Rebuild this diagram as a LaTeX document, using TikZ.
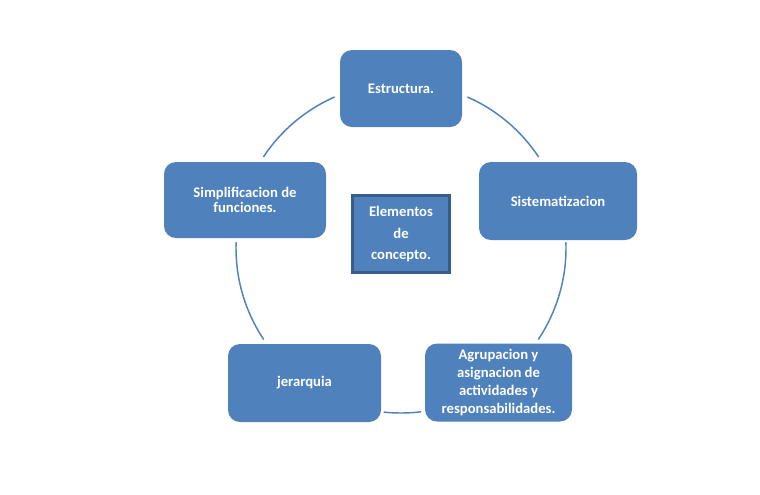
\documentclass[tikz,border=0pt]{standalone}
\usepackage{fontspec}
\setmainfont{Carlito}
\usetikzlibrary{calc}
\definecolor{boxblue}{HTML}{4F81BD}
\definecolor{boxedge}{HTML}{385D8A}
\begin{document}
\begin{tikzpicture}[x=0.75pt,y=0.75pt,
  stepbox/.style={rectangle, rounded corners=9pt, fill=boxblue, text=white, align=center,
    font=\fontsize{11}{13.5}\selectfont\bfseries, inner sep=0pt},
  centerbox/.style={rectangle, fill=boxblue, draw=boxedge, line width=2.25pt, text=white,
    align=center, inner sep=0pt, font=\fontsize{11}{16}\selectfont\bfseries},
  cyc/.style={draw=boxblue, line width=1.1pt}]
\useasboundingbox (0,0) rectangle (760,-494);
\coordinate (O) at (401,-248);
\def\R{165}
% cycle arcs
\draw[cyc] ($(O)+(66.3:\R)$) arc[start angle=66.3, end angle=33.5, radius=\R];
\draw[cyc] ($(O)+(2:\R)$) arc[start angle=2, end angle=-33.7, radius=\R];
\draw[cyc] ($(O)+(-83:\R)$) arc[start angle=-83, end angle=-96, radius=\R];
\draw[cyc] ($(O)+(213.7:\R)$) arc[start angle=213.7, end angle=178, radius=\R];
\draw[cyc] ($(O)+(146.5:\R)$) arc[start angle=146.5, end angle=113.7, radius=\R];
% boxes
\node[stepbox, minimum width=122*0.75pt, minimum height=77*0.75pt] (estructura) at (401,-88.5) {Estructura.};
\node[stepbox, minimum width=158*0.75pt, minimum height=78*0.75pt] (sistema) at (558,-201) {Sistematizacion};
\node[stepbox, minimum width=147*0.75pt, minimum height=78*0.75pt] (agrupa) at (498.5,-382.5) {Agrupacion y\\asignacion de\\actividades y\\responsabilidades.};
\node[stepbox, minimum width=153*0.75pt, minimum height=78*0.75pt] (jerarquia) at (304.5,-383) {jerarquia};
\node[stepbox, minimum width=162*0.75pt, minimum height=76*0.75pt, font=\fontsize{11}{11}\selectfont\bfseries] (simpli) at (245,-200) {Simplificacion de\\funciones.};
\node[centerbox, minimum width=97*0.75pt, minimum height=77*0.75pt] (centro) at (401,-234) {Elementos\\de\\concepto.};
\end{tikzpicture}
\end{document}
